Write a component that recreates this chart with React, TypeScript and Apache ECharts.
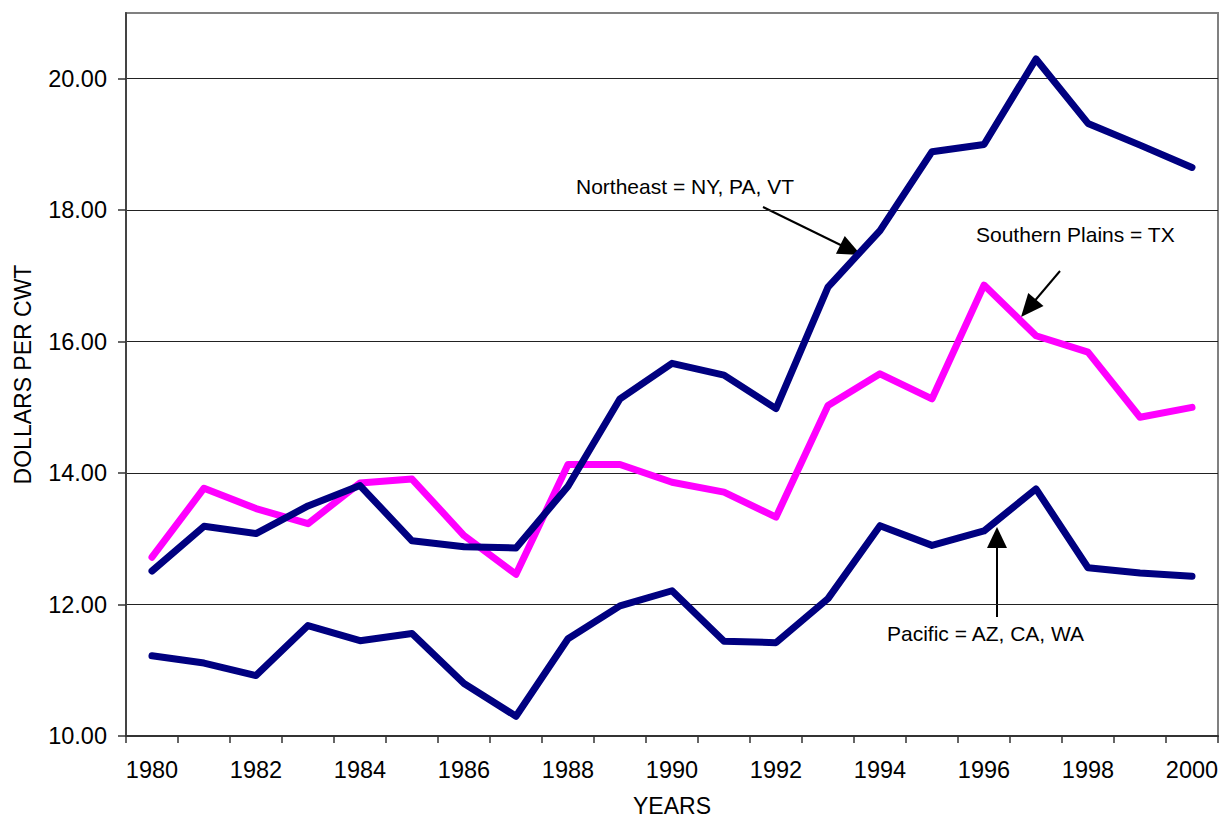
import React, { useEffect, useRef } from "react";
import * as echarts from "echarts";

const years = [
  "1980", "1981", "1982", "1983", "1984", "1985", "1986", "1987", "1988", "1989", "1990",
  "1991", "1992", "1993", "1994", "1995", "1996", "1997", "1998", "1999", "2000",
];
const northeast = [
  12.51, 13.19, 13.08, 13.5, 13.81, 12.97, 12.88, 12.86, 13.8, 15.13, 15.67,
  15.49, 14.98, 16.83, 17.69, 18.89, 19.0, 20.3, 19.32, 18.99, 18.65,
];
const southernPlains = [
  12.72, 13.77, 13.46, 13.23, 13.85, 13.91, 13.05, 12.46, 14.13, 14.13, 13.86,
  13.71, 13.33, 15.03, 15.51, 15.13, 16.86, 16.09, 15.84, 14.85, 15.0,
];
const pacific = [
  11.22, 11.11, 10.92, 11.68, 11.45, 11.56, 10.8, 10.3, 11.48, 11.98, 12.21,
  11.44, 11.42, 12.09, 13.2, 12.9, 13.12, 13.76, 12.56, 12.48, 12.43,
];
const yTicks = [10, 12, 14, 16, 18, 20];
const labelNE = "Northeast = NY, PA, VT";
const labelSP = "Southern Plains = TX";
const labelPAC = "Pacific = AZ, CA, WA";

const FONT = "'Liberation Sans', Arial, Helvetica, sans-serif";

function arrow(tail: number[], tip: number[], headLen: number, headW: number) {
  const dx = tip[0] - tail[0];
  const dy = tip[1] - tail[1];
  const len = Math.sqrt(dx * dx + dy * dy);
  const ux = dx / len;
  const uy = dy / len;
  const bx = tip[0] - ux * headLen;
  const by = tip[1] - uy * headLen;
  const nx = -uy;
  const ny = ux;
  const hw = headW / 2;
  return [
    {
      type: "line",
      shape: { x1: tail[0], y1: tail[1], x2: bx + ux * 2, y2: by + uy * 2 },
      style: { stroke: "#000", lineWidth: 2 },
      silent: true,
    },
    {
      type: "polygon",
      shape: {
        points: [
          [tip[0], tip[1]],
          [bx + nx * hw, by + ny * hw],
          [bx - nx * hw, by - ny * hw],
        ],
      },
      style: { fill: "#000" },
      silent: true,
    },
  ];
}

function label(text: string, x: number, y: number, size = 21) {
  return {
    type: "text",
    x,
    y,
    silent: true,
    style: {
      text,
      fill: "#000",
      fontSize: size,
      fontFamily: FONT,
      align: "left",
      verticalAlign: "middle",
    },
  };
}

export default function App() {
  const ref = useRef<HTMLDivElement>(null);
  useEffect(() => {
    document.body.style.margin = "0";
    if (!ref.current) return;
    const chart = echarts.init(ref.current, undefined, { renderer: "svg" });
    const series = [
      { name: "Southern Plains", data: southernPlains, color: "#FF00FF" },
      { name: "Northeast", data: northeast, color: "#000080" },
      { name: "Pacific", data: pacific, color: "#000080" },
    ].map((s) => ({
      name: s.name,
      type: "line",
      data: s.data,
      showSymbol: false,
      symbol: "none",
      lineStyle: { color: s.color, width: 7, cap: "round", join: "round" },
      itemStyle: { color: s.color },
    }));
    chart.setOption({
      animation: false,
      backgroundColor: "#fff",
      textStyle: { fontFamily: FONT },
      grid: {
        left: 126,
        right: 3,
        top: 13,
        bottom: 82,
        containLabel: false,
        outerBoundsMode: "none",
        show: true,
        borderColor: "#808080",
        borderWidth: 2,
      },
      xAxis: {
        type: "category",
        data: years,
        boundaryGap: true,
        name: "YEARS",
        nameLocation: "middle",
        nameGap: 58,
        nameTextStyle: { fontSize: 23, color: "#000", fontFamily: FONT },
        axisLine: { lineStyle: { color: "#333", width: 2 } },
        axisTick: { show: true, interval: 0, length: 7, alignWithLabel: false, lineStyle: { color: "#333", width: 1.5 } },
        axisLabel: { interval: 1, margin: 22, fontSize: 23.5, color: "#000", fontFamily: FONT },
        splitLine: { show: false },
      },
      yAxis: {
        type: "value",
        min: 10,
        max: 21,
        interval: 2,
        name: "DOLLARS PER CWT",
        nameLocation: "middle",
        nameRotate: 90,
        nameGap: 92,
        nameTextStyle: { fontSize: 23, color: "#000", fontFamily: FONT },
        axisLine: { show: true, lineStyle: { color: "#444", width: 2 } },
        axisTick: { show: true, length: 8, customValues: yTicks, lineStyle: { color: "#333", width: 1.5 } },
        axisLabel: {
          customValues: yTicks,
          margin: 19,
          fontSize: 23.5,
          color: "#000",
          fontFamily: FONT,
          formatter: (v: number) => (v > 20.5 ? "" : v.toFixed(2)),
        },
        splitLine: { show: true, lineStyle: { color: "#222", width: 1 } },
      },
      series,
      graphic: [
        label(labelNE, 576, 186),
        ...arrow([763, 207], [861, 255], 23, 20),
        label(labelSP, 976, 234),
        ...arrow([1060, 271], [1021, 317], 23, 20),
        label(labelPAC, 887, 633),
        ...arrow([997, 617], [997, 527], 21, 20),
      ],
    });
    return () => chart.dispose();
  }, []);
  return (
    <div
      ref={ref}
      style={{ position: "absolute", left: 0, top: 0, width: 1221, height: 818, background: "#fff" }}
    />
  );
}
